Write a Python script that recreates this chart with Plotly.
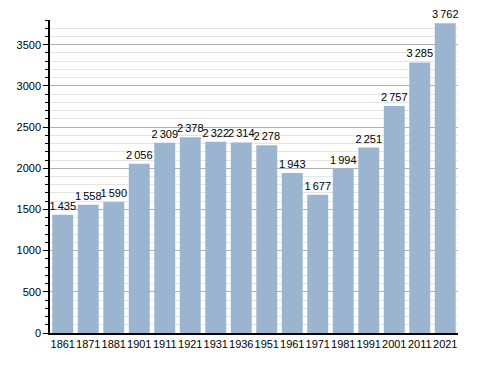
import plotly.graph_objects as go

years = ["1861", "1871", "1881", "1901", "1911", "1921", "1931", "1936",
         "1951", "1961", "1971", "1981", "1991", "2001", "2011", "2021"]
population = [1435, 1558, 1590, 2056, 2309, 2378, 2322, 2314,
              2278, 1943, 1677, 1994, 2251, 2757, 3285, 3762]

labels = ["{:,}".format(v).replace(",", "\u2009") for v in population]

fig = go.Figure(go.Bar(
    x=years, y=population, text=labels,
    textposition="outside", constraintext="none", cliponaxis=False,
    textfont=dict(color="black", size=11, family="Liberation Sans, Arial"),
    marker=dict(color="#9bb4cf", line=dict(width=0)),
    width=0.82,
))

fig.update_layout(
    width=480, height=365,
    margin=dict(l=42, r=30, t=12, b=40, autoexpand=False),
    paper_bgcolor="white", plot_bgcolor="white",
    showlegend=False,
    font=dict(family="Liberation Sans, Arial", size=11, color="black"),
    bargap=0.18,
)
fig.update_xaxes(
    type="category", showline=True, linecolor="black", linewidth=1.5,
    ticks="", showgrid=False, tickfont=dict(size=11), tickangle=0,
    automargin=False,
)
fig.update_yaxes(
    range=[0, 3800], tickmode="linear", tick0=0, dtick=500,
    showline=True, linecolor="black", linewidth=1.5,
    ticks="outside", ticklen=5, tickcolor="black",
    showgrid=True, gridcolor="#b0b0b0", gridwidth=1,
    zeroline=False, tickformat="d", tickfont=dict(size=11),
    automargin=False,
    minor=dict(dtick=100, showgrid=True, gridcolor="#e4e4e4",
               ticks="outside", ticklen=3, tickcolor="black"),
)

fig.write_html("out.html")
